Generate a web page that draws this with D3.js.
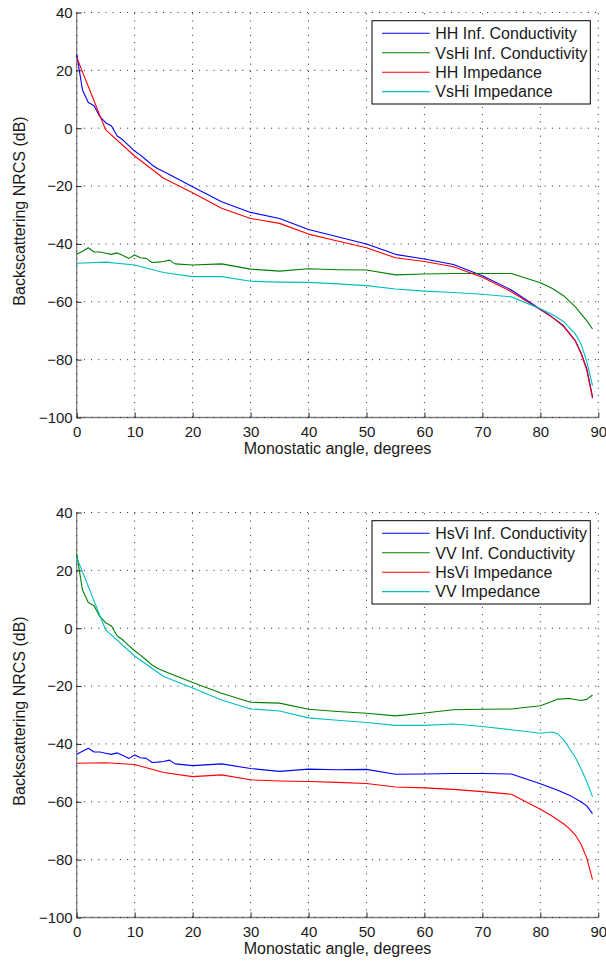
<!DOCTYPE html>
<html>
<head>
<meta charset="utf-8">
<script src="https://cdn.jsdelivr.net/npm/d3@7"></script>
<style>
  html, body { margin: 0; padding: 0; background: #ffffff; }
  svg { display: block; }
  text { font-family: "Liberation Sans", Arial, Helvetica, sans-serif; fill: #1a1a1a; }
</style>
</head>
<body>
<svg id="chart" width="606" height="965"></svg>
<script>
// Axis ticks shared by both panels
const xTicks = [0, 10, 20, 30, 40, 50, 60, 70, 80, 90];
const yTicks = [40, 20, 0, -20, -40, -60, -80, -100];
const xLabel = "Monostatic angle, degrees";
const yLabel = "Backscattering NRCS (dB)";

// Upper panel: HH and VsHi
const hhInfAngle = [0,1,2,3,4,5,6,7,8,9,10,11,12,13,14,15,20,25,30,35,40,45,50,55,60,65,70,75,80,82,84,86,87,88,89];
const hhInfDb    = [25.6,13.2,8.9,7.8,4.0,1.9,0.8,-2.7,-4.1,-6.0,-7.9,-9.3,-11.0,-12.7,-14.0,-15.0,-20.2,-25.4,-29.1,-31.2,-35.0,-37.5,-40.0,-43.6,-45.2,-47.1,-51.0,-55.9,-62.6,-65.2,-68.3,-73.3,-77.5,-83.0,-92.8];

const vshiInfAngle = [0,1,2,3,4,5,6,7,8,9,10,11,12,13,14,15,16,17,20,25,30,35,40,45,50,55,60,65,70,75,80,82,84,86,88,89];
const vshiInfDb    = [-43.6,-42.5,-41.3,-42.8,-42.8,-43.2,-43.6,-43.1,-44.0,-45.0,-43.8,-44.8,-45.0,-46.4,-46.3,-46.1,-45.6,-46.9,-47.3,-46.9,-48.7,-49.4,-48.6,-48.9,-49.0,-50.7,-50.4,-50.2,-50.2,-50.2,-53.4,-55.3,-57.9,-61.7,-66.5,-69.4];

const hhImpAngle = [0,5,10,15,20,25,30,35,40,45,50,55,60,65,70,75,80,82,84,86,87,88,89];
const hhImpDb    = [24.5,-0.6,-9.6,-17.3,-22.3,-27.7,-31.2,-32.9,-36.6,-39.0,-41.3,-44.8,-46.1,-47.9,-51.5,-56.5,-62.8,-65.3,-68.5,-73.5,-77.8,-83.5,-93.4];

const vshiImpAngle = [0,5,10,15,20,25,30,35,40,45,50,55,60,65,70,75,80,82,84,86,87,88,89];
const vshiImpDb    = [-46.7,-46.3,-47.3,-49.9,-51.3,-51.3,-52.9,-53.2,-53.3,-53.8,-54.4,-55.6,-56.3,-56.8,-57.4,-58.3,-62.4,-64.3,-66.8,-71.0,-74.5,-80.5,-89.0];

// Lower panel: HsVi and VV
const hsviInfAngle = [0,1,2,3,4,5,6,7,8,9,10,11,12,13,14,15,16,17,20,25,30,35,40,45,50,55,60,65,70,75,80,83,85,87,88,89];
const hsviInfDb    = [-43.6,-42.5,-41.5,-42.8,-42.8,-43.2,-43.6,-43.1,-44.0,-45.0,-43.8,-44.8,-45.0,-46.4,-46.3,-46.1,-45.6,-46.9,-47.5,-46.9,-48.5,-49.5,-48.7,-48.9,-48.8,-50.5,-50.4,-50.2,-50.2,-50.4,-53.8,-56.0,-57.7,-60.0,-61.4,-64.1];

const vvInfAngle = [0,1,2,3,4,5,6,7,8,9,10,11,12,13,14,15,20,25,30,35,40,45,50,55,60,65,70,75,80,82,83,85,87,88,89];
const vvInfDb    = [25.6,13.2,8.9,7.8,4.0,1.9,0.8,-2.7,-4.1,-6.0,-7.8,-9.3,-11.0,-12.7,-13.9,-14.8,-18.8,-22.5,-25.6,-25.9,-28.0,-28.8,-29.4,-30.3,-29.3,-28.2,-28.0,-27.9,-26.8,-25.3,-24.5,-24.3,-25.0,-24.6,-23.1];

const hsviImpAngle = [0,5,10,15,20,25,30,35,40,45,50,55,60,65,70,75,80,82,84,85,86,87,88,89];
const hsviImpDb    = [-46.7,-46.5,-47.1,-49.9,-51.3,-50.7,-52.4,-52.8,-53.0,-53.3,-53.7,-54.9,-55.2,-55.7,-56.5,-57.4,-62.6,-64.9,-67.6,-69.3,-71.4,-74.6,-79.4,-86.9];

const vvImpAngle = [0,5,10,15,20,25,30,35,40,45,50,55,60,65,70,75,80,82,83,84,85,86,87,88,89];
const vvImpDb    = [24.5,-0.6,-9.6,-16.7,-20.7,-24.8,-27.9,-28.6,-31.0,-31.8,-32.6,-33.6,-33.6,-33.1,-34.0,-35.1,-36.3,-35.9,-36.5,-38.5,-41.5,-44.5,-48.5,-53.0,-58.2];

// Line colours (MATLAB default order)
const BLUE = "#0000ff", GREEN = "#008000", RED = "#ff0000", CYAN = "#00bfbf";

const upperSeries = [
  { name: "HH Inf. Conductivity",   color: BLUE,  x: hhInfAngle,   y: hhInfDb },
  { name: "VsHi Inf. Conductivity", color: GREEN, x: vshiInfAngle, y: vshiInfDb },
  { name: "HH Impedance",           color: RED,   x: hhImpAngle,   y: hhImpDb },
  { name: "VsHi Impedance",         color: CYAN,  x: vshiImpAngle, y: vshiImpDb }
];
const lowerSeries = [
  { name: "HsVi Inf. Conductivity", color: BLUE,  x: hsviInfAngle, y: hsviInfDb },
  { name: "VV Inf. Conductivity",   color: GREEN, x: vvInfAngle,   y: vvInfDb },
  { name: "HsVi Impedance",         color: RED,   x: hsviImpAngle, y: hsviImpDb },
  { name: "VV Impedance",           color: CYAN,  x: vvImpAngle,   y: vvImpDb }
];

const svg = d3.select("#chart");

const plotLeft = 76.7, plotRight = 598.3;
const plotTop = 12.5, plotBottom = 417.5;

function drawPanel(offsetY, series) {
  const g = svg.append("g").attr("transform", `translate(0,${offsetY})`);

  const x = d3.scaleLinear().domain([0, 90]).range([plotLeft, plotRight]);
  const y = d3.scaleLinear().domain([-100, 40]).range([plotBottom, plotTop]);

  // solid left and bottom axis lines
  g.append("line")
    .attr("x1", plotLeft).attr("x2", plotLeft)
    .attr("y1", plotTop).attr("y2", plotBottom)
    .attr("stroke", "#808080").attr("stroke-width", 1.3);
  g.append("line")
    .attr("x1", plotLeft).attr("x2", plotRight)
    .attr("y1", plotBottom).attr("y2", plotBottom)
    .attr("stroke", "#808080").attr("stroke-width", 1.3);

  // dotted grid
  const grid = g.append("g")
    .attr("stroke", "#262626")
    .attr("stroke-width", 1)
    .attr("stroke-dasharray", "1,6.2");
  grid.selectAll("line.v").data(xTicks).join("line")
    .attr("class", "v")
    .attr("x1", d => x(d)).attr("x2", d => x(d))
    .attr("y1", plotBottom).attr("y2", plotTop);
  grid.selectAll("line.h").data(yTicks).join("line")
    .attr("class", "h")
    .attr("x1", plotLeft).attr("x2", plotRight)
    .attr("y1", d => y(d)).attr("y2", d => y(d));

  // axes with inward ticks
  const xAxis = d3.axisBottom(x).tickValues(xTicks).tickFormat(d3.format("d"))
    .tickSizeInner(-5).tickSizeOuter(0).tickPadding(9);
  const yAxis = d3.axisLeft(y).tickValues(yTicks).tickFormat(d3.format("d"))
    .tickSizeInner(-5).tickSizeOuter(0).tickPadding(4);

  const gx = g.append("g").attr("transform", `translate(0,${plotBottom})`).call(xAxis);
  const gy = g.append("g").attr("transform", `translate(${plotLeft},0)`).call(yAxis);
  [gx, gy].forEach(a => {
    a.select(".domain").remove();
    a.selectAll(".tick line").attr("stroke", "#262626").attr("stroke-width", 1);
    a.selectAll(".tick text")
      .attr("fill", "#1a1a1a")
      .style("font-size", "15px")
      .style("font-family", '"Liberation Sans", Arial, sans-serif');
  });

  // axis titles
  g.append("text")
    .attr("x", (plotLeft + plotRight) / 2)
    .attr("y", 454)
    .attr("text-anchor", "middle")
    .style("font-size", "16px")
    .text(xLabel);
  g.append("text")
    .attr("transform", `translate(25,211) rotate(-90)`)
    .attr("text-anchor", "middle")
    .style("font-size", "16px")
    .text(yLabel);

  // data curves
  const line = d3.line().x(d => x(d[0])).y(d => y(d[1]));
  g.append("g").selectAll("path").data(series).join("path")
    .attr("d", s => line(s.x.map((a, i) => [a, s.y[i]])))
    .attr("fill", "none")
    .attr("stroke", s => s.color)
    .attr("stroke-width", 1.1)
    .attr("stroke-linejoin", "round");

  // legend
  const lg = g.append("g");
  lg.append("rect")
    .attr("x", 372).attr("y", 20.7)
    .attr("width", 218.3).attr("height", 83.3)
    .attr("fill", "#ffffff")
    .attr("stroke", "#000000").attr("stroke-width", 1);
  const rows = lg.selectAll("g.row").data(series).join("g")
    .attr("class", "row")
    .attr("transform", (s, i) => `translate(0,${33.3 + i * 19.45})`);
  rows.append("line")
    .attr("x1", 382).attr("x2", 429.7)
    .attr("y1", 0).attr("y2", 0)
    .attr("stroke", s => s.color).attr("stroke-width", 1.1);
  rows.append("text")
    .attr("x", 435.3).attr("y", 0).attr("dy", "0.36em")
    .style("font-size", "16px")
    .text(s => s.name);
}

drawPanel(0, upperSeries);
drawPanel(500, lowerSeries);
</script>
</body>
</html>
